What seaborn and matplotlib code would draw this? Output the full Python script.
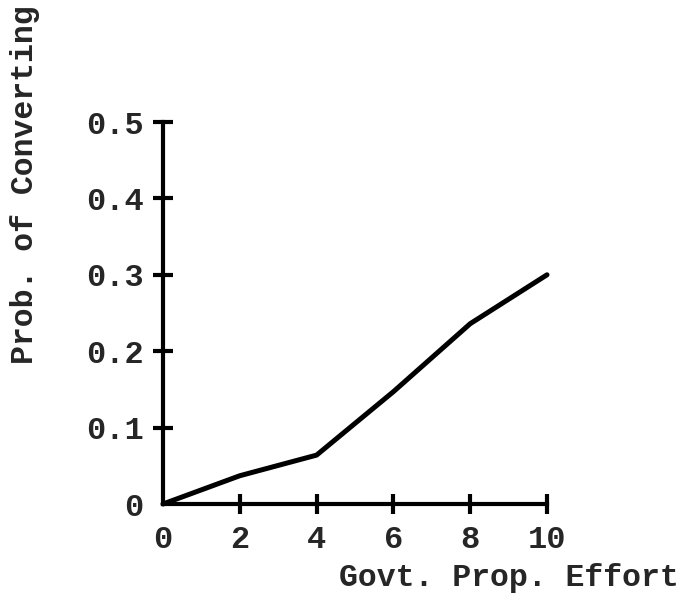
import matplotlib
matplotlib.use("Agg")
import matplotlib.pyplot as plt
import seaborn as sns
import pandas as pd

effort = [0, 2, 4, 6, 8, 10]
prob = [0.0, 0.037, 0.064, 0.147, 0.236, 0.300]
x_ticks = [0, 2, 4, 6, 8, 10]
y_ticks = [0, 0.1, 0.2, 0.3, 0.4, 0.5]
y_tick_labels = ["0", "0.1", "0.2", "0.3", "0.4", "0.5"]
x_label = "Govt. Prop. Effort"
y_label = "Prob. of Converting"

sns.set_theme(style="white")
plt.rcParams['font.family'] = ['Liberation Mono', 'DejaVu Sans Mono']
plt.rcParams['font.weight'] = 'bold'

df = pd.DataFrame({"effort": effort, "prob": prob})

fig = plt.figure(figsize=(6.82, 6.05), dpi=100)
ax = fig.add_axes([163/682, 1 - 504/605, (547 - 163)/682, (504 - 122)/605])
sns.lineplot(data=df, x="effort", y="prob", ax=ax, color="black", linewidth=3.6,
             solid_joinstyle="round", solid_capstyle="round", clip_on=False)

ax.set_xlim(0, 10)
ax.set_ylim(0, 0.5)
for s in ["top", "right"]:
    ax.spines[s].set_visible(False)
for s in ["left", "bottom"]:
    ax.spines[s].set_linewidth(3)
    ax.spines[s].set_color("black")

ax.set_xticks(x_ticks)
ax.set_xticklabels([str(v) for v in x_ticks], fontsize=23, fontweight="bold")
ax.set_yticks(y_ticks)
ax.set_yticklabels(y_tick_labels, fontsize=23, fontweight="bold")
ax.tick_params(axis="both", direction="inout", length=14, width=3, color="black",
               bottom=True, left=True)
ax.tick_params(axis="x", pad=8)
ax.tick_params(axis="y", pad=7)
ax.xaxis.get_major_ticks()[0].tick1line.set_visible(False)
ax.yaxis.get_major_ticks()[0].tick1line.set_visible(False)

ax.set_xlabel("")
ax.set_ylabel("")
fig.text(679/682, 1 - 578/605, x_label, ha="right", va="center",
         fontsize=22.7, fontweight="bold")
fig.text(25/682, 1 - 185/605, y_label, ha="center", va="center", rotation=90,
         fontsize=22.7, fontweight="bold")

fig.savefig("out.png", dpi=100, facecolor="white")
